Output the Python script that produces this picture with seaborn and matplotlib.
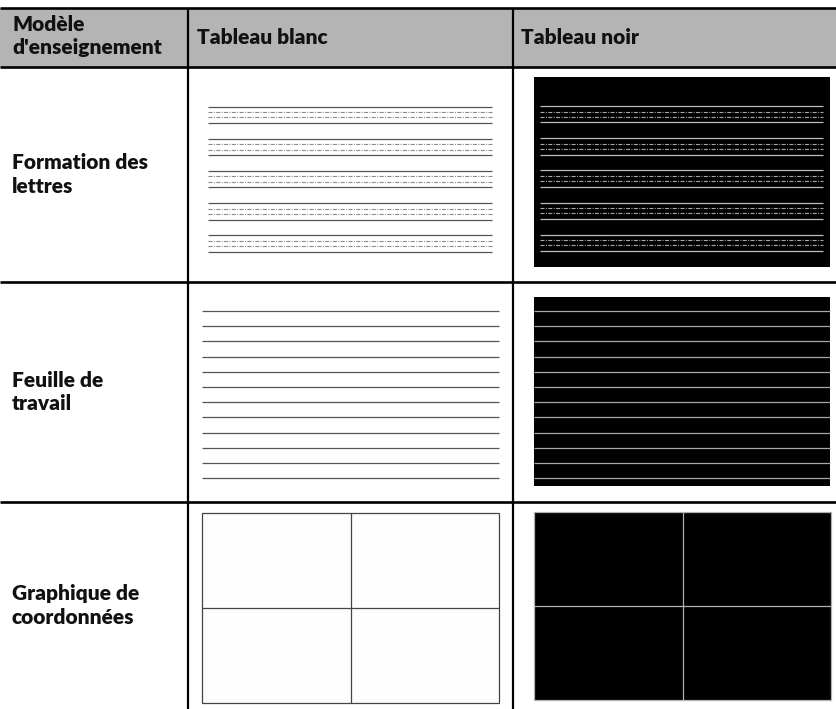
import matplotlib
matplotlib.use("Agg")
import matplotlib.pyplot as plt
import seaborn as sns
from matplotlib.patches import Rectangle

# table content
header_labels = ["Modèle\nd'enseignement", "Tableau blanc", "Tableau noir"]
row_labels = ["Formation des\nlettres", "Feuille de\ntravail", "Graphique de\ncoordonnées"]

# template rulings (pixel rows)
letter_solid = [106.5, 122.8, 138.7, 155.0, 170.7, 187.2, 203.0, 219.5, 235.2, 251.7]
letter_dashed = [112.2, 117.4, 144.4, 149.5, 176.4, 181.5, 208.5, 213.7, 240.7, 245.9]
worksheet_lines = [310.8, 326.0, 341.3, 356.7, 371.7, 387.2, 402.3, 417.3, 432.7, 447.5, 462.8, 478.2]
grid_white = {"x": (202.3, 499.0), "y": (513.3, 702.7), "vx": 350.7, "hy": 608.3}
grid_black = {"x": (534.3, 830.7), "y": (511.7, 700.0), "vx": 682.7, "hy": 606.0}

W, H = 836, 709
col_edges = [0, 188, 513, W]
row_edges = [7.5, 67, 282, 502, H]

sns.set_theme(style="white")
plt.rcParams['font.family'] = ['Lato', 'DejaVu Sans']
plt.rcParams['lines.scale_dashes'] = False

fig = plt.figure(figsize=(W / 100, H / 100), dpi=100)
ax = fig.add_axes([0, 0, 1, 1])
ax.set_xlim(0, W)
ax.set_ylim(H, 0)
ax.axis("off")

# header band
ax.add_patch(Rectangle((0, row_edges[0]), W, row_edges[1] - row_edges[0],
                       facecolor="#b4b4b4", edgecolor="none", zorder=0))

# table rules
for y in row_edges[:-1]:
    ax.hlines(y, 0, W, color="black", lw=1.9, zorder=5)
for x in col_edges[1:-1]:
    ax.vlines(x, row_edges[0], H, color="black", lw=1.6, zorder=5)

# texts
txt = dict(fontsize=15, fontweight=800, color="#111111", va="center", ha="left",
           linespacing=1.3)
ax.text(12, 36, header_labels[0], **txt)
ax.text(197, 38, header_labels[1], **txt)
ax.text(521, 38, header_labels[2], **txt)
for label, (top, bot) in zip(row_labels, zip(row_edges[1:-1], row_edges[2:])):
    ax.text(12, (top + bot) / 2, label, **txt)

dash = (0, (2.9, 1.0, 0.7, 1.0))

# letter formation: white board
ax.hlines(letter_solid, 208, 492, color="#555555", lw=0.9)
ax.hlines(letter_dashed, 208, 492, color="#8a8a8a", lw=0.8, linestyles=[dash])
# letter formation: black board
ax.add_patch(Rectangle((534, 77), 296, 190, facecolor="black", edgecolor="none"))
ax.hlines([y - 0.5 for y in letter_solid], 540, 823, color="#bdbdbd", lw=0.9)
ax.hlines([y - 0.5 for y in letter_dashed], 540, 823, color="#a8a8a8", lw=0.8,
          linestyles=[dash])

# worksheet
ax.hlines(worksheet_lines, 202, 499, color="#555555", lw=0.9)
ax.add_patch(Rectangle((534, 297), 296, 189, facecolor="black", edgecolor="none"))
ax.hlines(worksheet_lines, 534, 830, color="#a8a8a8", lw=0.9)

# coordinate grids
for g, face, line in [(grid_white, "#fdfdfd", "#444444"), (grid_black, "black", "#b0b0b0")]:
    (x0, x1), (y0, y1) = g["x"], g["y"]
    ax.add_patch(Rectangle((x0, y0), x1 - x0, y1 - y0, facecolor=face,
                           edgecolor=line, lw=0.9))
    ax.vlines(g["vx"], y0, y1, color=line, lw=0.9)
    ax.hlines(g["hy"], x0, x1, color=line, lw=0.9)

fig.savefig("out.png", dpi=100)
